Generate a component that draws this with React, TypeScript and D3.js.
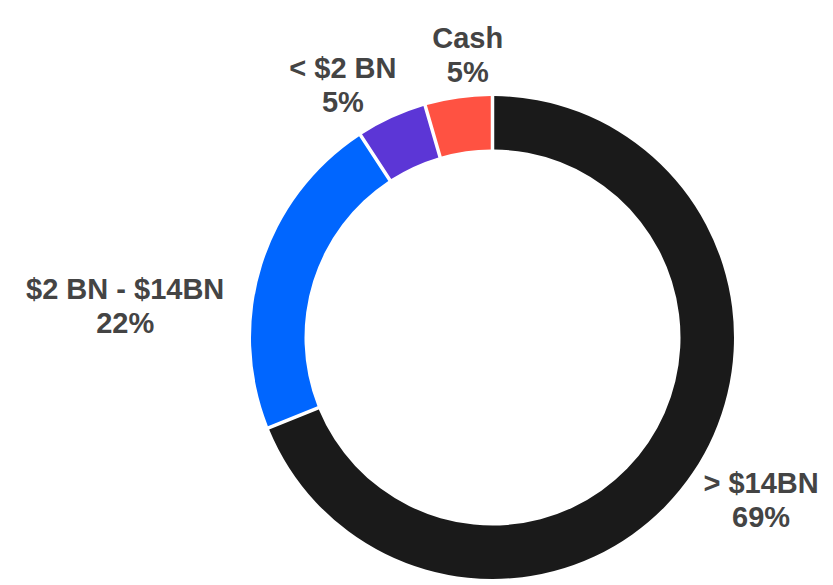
import React from "react";
import * as d3 from "d3";

const WIDTH = 833;
const HEIGHT = 585;
const CX = 492.5;
const CY = 337.5;
const OUTER_R = 241.5;
const INNER_R = 188;
const GAP = 3.5;

const categories = ["> $14BN", "$2 BN - $14BN", "< $2 BN", "Cash"];
const shares = [68.9, 21.9, 4.7, 4.5];
const shareLabels = ["69%", "22%", "5%", "5%"];
const sliceColors = ["#1a1a1a", "#0066ff", "#5c36d6", "#ff5242"];

// label placement: distance from center and angle nudge (deg) from the slice middle
const labelRadius = [319, 368, 285, 273.6];
const labelNudge = [-1.35, -14.05, -7, 2.9];

type Datum = { name: string; value: number; label: string; color: string };

const data: Datum[] = categories.map((name, i) => ({
  name,
  value: shares[i],
  label: shareLabels[i],
  color: sliceColors[i],
}));

export default function App() {
  const pie = d3
    .pie<Datum>()
    .value((d) => d.value)
    .sort(null);
  const arcs = pie(data);

  const arcGen = d3
    .arc<d3.PieArcDatum<Datum>>()
    .innerRadius(INNER_R)
    .outerRadius(OUTER_R)
    .padRadius(200)
    .padAngle(GAP / 200);

  return (
    <svg
      width={WIDTH}
      height={HEIGHT}
      style={{ position: "absolute", left: 0, top: 0 }}
    >
      <g transform={`translate(${CX}, ${CY})`}>
        {arcs.map((a, i) => (
          <path key={i} d={arcGen(a) || ""} fill={a.data.color} />
        ))}
        {arcs.map((a, i) => {
          const mid = (a.startAngle + a.endAngle) / 2 + (labelNudge[i] * Math.PI) / 180;
          const x = labelRadius[i] * Math.sin(mid);
          const y = -labelRadius[i] * Math.cos(mid);
          return (
            <text
              key={"l" + i}
              x={x}
              y={y}
              textAnchor="middle"
              fontFamily="'Liberation Sans', Arial, sans-serif"
              fontWeight="bold"
              fontSize={29}
              fill="#444444"
            >
              <tspan x={x} y={y - 17}>
                {a.data.name}
              </tspan>
              <tspan x={x} y={y + 17}>
                {a.data.label}
              </tspan>
            </text>
          );
        })}
      </g>
    </svg>
  );
}
